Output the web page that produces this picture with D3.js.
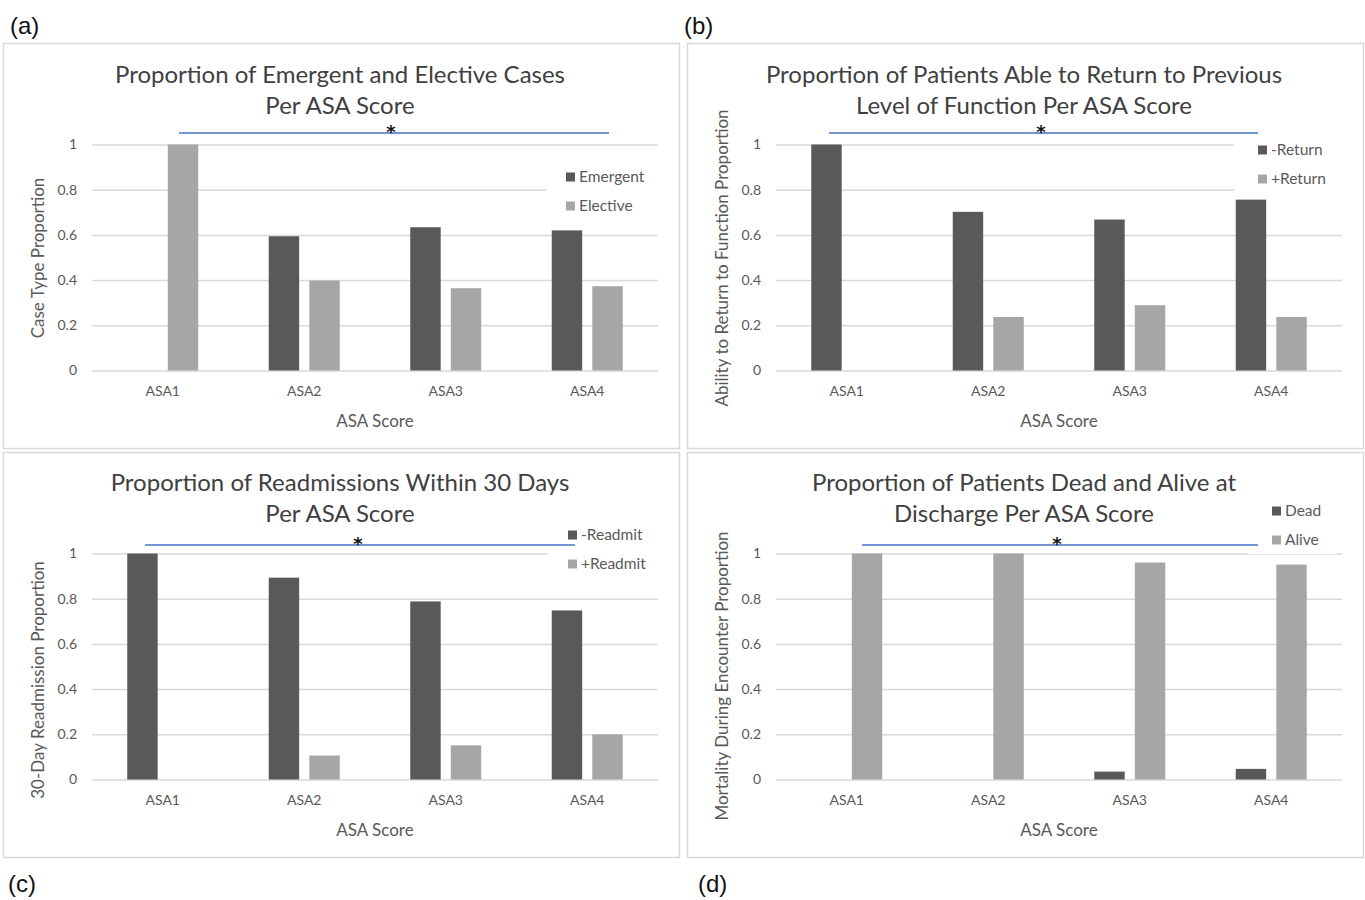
<!DOCTYPE html>
<html>
<head>
<meta charset="utf-8">
<script src="https://cdn.jsdelivr.net/npm/d3@7"></script>
<style>
  body { margin: 0; background: #fff; }
  svg text { font-family: Lato, "Open Sans", sans-serif; fill: #595959; }
</style>
</head>
<body>
<svg id="chart" width="1365" height="900"></svg>
<script>
// ASA categories shared by all four charts
const categories = ['ASA1', 'ASA2', 'ASA3', 'ASA4']
const yTicks = [0, 0.2, 0.4, 0.6, 0.8, 1]

// (a) case type
const emergent = [0, 0.594, 0.634, 0.62]
const elective = [1, 0.398, 0.364, 0.373]
// (b) return to function
const minusReturn = [1, 0.702, 0.668, 0.756]
const plusReturn = [0, 0.237, 0.289, 0.237]
// (c) readmission
const minusReadmit = [1, 0.893, 0.788, 0.748]
const plusReadmit = [0, 0.106, 0.151, 0.2]
// (d) mortality
const dead = [0, 0, 0.035, 0.047]
const alive = [1, 1, 0.96, 0.951]

const svg = d3.select('#chart')

const panels = [
  {
    tag: '(a)', x: 3, y: 43, tagX: 10, tagY: 34,
    title: ['Proportion of Emergent and Elective Cases', 'Per ASA Score'],
    titleY: [32, 63],
    yTitle: 'Case Type Proportion', yTitleY: 215,
    series: [{ name: 'Emergent', values: emergent }, { name: 'Elective', values: elective }],
    legend: { x: 563, y: 134, box: [543, 118, 112, 62] },
    sig: { x1: 176, x2: 606, y: 90, starX: 388 }
  },
  {
    tag: '(b)', x: 687, y: 43, tagX: 684, tagY: 34,
    title: ['Proportion of Patients Able to Return to Previous', 'Level of Function Per ASA Score'],
    titleY: [32, 63],
    yTitle: 'Ability to Return to Function Proportion', yTitleY: 215,
    series: [{ name: '-Return', values: minusReturn }, { name: '+Return', values: plusReturn }],
    legend: { x: 571, y: 107, box: [547, 94, 110, 62] },
    sig: { x1: 142, x2: 571, y: 90, starX: 354 }
  },
  {
    tag: '(c)', x: 3, y: 452, tagX: 8, tagY: 892,
    title: ['Proportion of Readmissions Within 30 Days', 'Per ASA Score'],
    titleY: [31, 62],
    yTitle: '30-Day Readmission Proportion', yTitleY: 228,
    series: [{ name: '-Readmit', values: minusReadmit }, { name: '+Readmit', values: plusReadmit }],
    legend: { x: 565, y: 83, box: [545, 70, 112, 56] },
    sig: { x1: 142, x2: 572, y: 93, starX: 355 }
  },
  {
    tag: '(d)', x: 687, y: 452, tagX: 698, tagY: 892,
    title: ['Proportion of Patients Dead and Alive at', 'Discharge Per ASA Score'],
    titleY: [31, 62],
    yTitle: 'Mortality During Encounter Proportion', yTitleY: 224,
    series: [{ name: 'Dead', values: dead }, { name: 'Alive', values: alive }],
    legend: { x: 585, y: 59, box: [561, 46, 89, 56] },
    sig: { x1: 175, x2: 571, y: 93, starX: 370 }
  }
]

const colors = ['#595959', '#a6a6a6']

panels.forEach(drawPanel)

function drawPanel (p) {
  svg.append('text')
    .attr('x', p.tagX)
    .attr('y', p.tagY)
    .style('font-family', 'Liberation Sans, Arial, sans-serif')
    .style('font-size', '24px')
    .style('fill', '#111')
    .text(p.tag)

  const g = svg.append('g').attr('transform', `translate(${p.x},${p.y})`)

  g.append('rect')
    .attr('x', 0.5).attr('y', 0.5)
    .attr('width', 676).attr('height', 405)
    .attr('fill', '#fff')
    .attr('stroke', '#d9d9d9')
    .attr('stroke-width', 1.5)

  const left = 89
  const right = 655
  const top = 101.5
  const bottom = 327.5

  const x = d3.scaleBand().domain(categories).range([left, right])
  const y = d3.scaleLinear().domain([0, 1]).range([bottom, top])
  const sub = d3.scaleBand()
    .domain(p.series.map(s => s.name))
    .range([-35.5, 35.5])
    .paddingInner(0.25)

  const yAxis = d3.axisLeft(y)
    .tickValues(yTicks)
    .tickSize(-(right - left))
    .tickPadding(15)
    .tickFormat(d3.format('~g'))

  const ya = g.append('g')
    .attr('transform', `translate(${left},0)`)
    .call(yAxis)
  ya.select('.domain').remove()
  ya.selectAll('line').attr('stroke', '#d9d9d9').attr('stroke-width', 1.5)
  ya.selectAll('text')
    .style('font-size', '14px')
    .style('font-family', 'Lato, sans-serif')
    .attr('fill', '#595959')

  const xAxis = d3.axisBottom(x).tickSize(0).tickPadding(16)
  const xa = g.append('g')
    .attr('transform', `translate(0,${bottom})`)
    .call(xAxis)
  xa.select('.domain').remove()
  xa.selectAll('text')
    .style('font-size', '14px')
    .style('font-family', 'Lato, sans-serif')
    .attr('fill', '#595959')

  p.series.forEach((s, i) => {
    g.append('g')
      .selectAll('rect')
      .data(s.values)
      .join('rect')
      .attr('x', (d, j) => x(categories[j]) + x.bandwidth() / 2 + sub(s.name))
      .attr('y', d => y(d))
      .attr('width', sub.bandwidth())
      .attr('height', d => bottom - y(d))
      .attr('fill', colors[i])
  })

  // legend box hides the grid lines behind it
  const lg = g.append('g')
  lg.append('rect')
    .attr('x', p.legend.box[0]).attr('y', p.legend.box[1])
    .attr('width', p.legend.box[2]).attr('height', p.legend.box[3])
    .attr('fill', '#fff')
  p.series.forEach((s, i) => {
    const ly = p.legend.y + i * 29
    lg.append('rect')
      .attr('x', p.legend.x).attr('y', ly - 4.5)
      .attr('width', 9).attr('height', 9)
      .attr('fill', colors[i])
    lg.append('text')
      .attr('x', p.legend.x + 13)
      .attr('y', ly)
      .attr('dy', '0.35em')
      .style('font-size', '15.5px')
      .text(s.name)
  })

  g.selectAll('.title')
    .data(p.title)
    .join('text')
    .attr('class', 'title')
    .attr('x', 337)
    .attr('y', (d, i) => p.titleY[i])
    .attr('dy', '0.35em')
    .attr('text-anchor', 'middle')
    .style('font-size', '24px')
    .style('fill', '#404040')
    .text(d => d)

  g.append('text')
    .attr('transform', `translate(35,${p.yTitleY}) rotate(-90)`)
    .attr('text-anchor', 'middle')
    .attr('dy', '0.35em')
    .style('font-size', '17px')
    .text(p.yTitle)

  g.append('text')
    .attr('x', 372)
    .attr('y', 378)
    .attr('dy', '0.35em')
    .attr('text-anchor', 'middle')
    .style('font-size', '17px')
    .text('ASA Score')

  // significance bar
  g.append('line')
    .attr('x1', p.sig.x1).attr('x2', p.sig.x2)
    .attr('y1', p.sig.y).attr('y2', p.sig.y)
    .attr('stroke', '#4472c4')
    .attr('stroke-width', 1.5)
  g.append('text')
    .attr('x', p.sig.starX)
    .attr('y', p.sig.y + 5)
    .attr('text-anchor', 'middle')
    .style('font-family', 'DejaVu Sans, sans-serif')
    .style('font-size', '18px')
    .style('font-weight', 'bold')
    .style('fill', '#111')
    .text('*')
}
</script>
</body>
</html>
